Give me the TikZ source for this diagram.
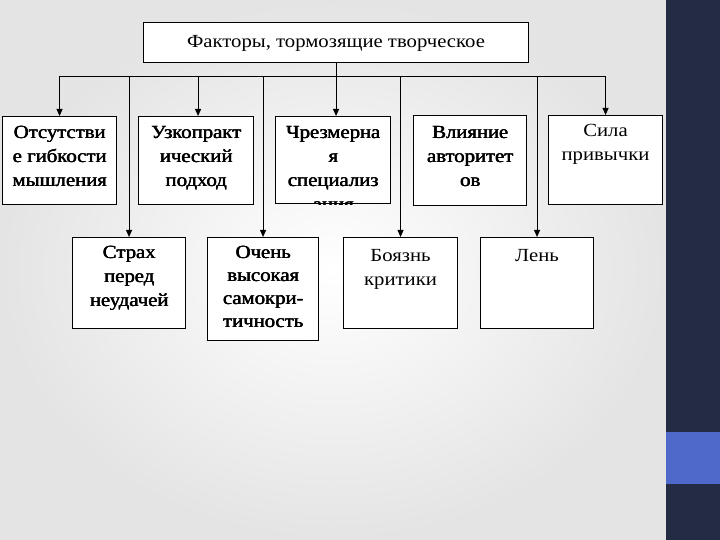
\documentclass[tikz,border=0pt]{standalone}
\usepackage{fontspec}
\setmainfont{Liberation Serif}[FakeStretch=1.12]
\newcommand\hv[1]{\leavevmode\rlap{\kern0.55pt#1}\rlap{\kern0.3pt\raisebox{0.35pt}{#1}}#1}
\usetikzlibrary{arrows.meta}
\definecolor{navy}{HTML}{232B45}
\definecolor{accent}{HTML}{4E69C9}
\definecolor{bgout}{HTML}{E4E4E4}
\tikzset{
  box/.style={draw, line width=1.1pt, inner sep=0pt, anchor=north west, fill=white},
  txt/.style={anchor=north, inner sep=0pt, align=center, font=\fontsize{18.5}{24}\selectfont},
  conn/.style={line width=0.9pt},
  arr/.style={line width=0.9pt, -{Triangle[length=7pt,width=6pt]}}
}
\begin{document}
\begin{tikzpicture}[x=1pt,y=-1pt]
\useasboundingbox (0,0) rectangle (720,540);
% background
\shade[inner color=white, outer color=bgout] (0,0) rectangle (666,540);
\fill[navy] (666,0) rectangle (720,540);
\fill[accent] (666,432) rectangle (720,484);

% title box
\node[box, minimum width=385pt, minimum height=40pt] (top) at (143,22) {};
\node[anchor=base, inner sep=0pt, font=\fontsize{18.5}{24}\selectfont] (topt) at (336,48) {Факторы, тормозящие творческое};

% row 1 boxes
\node[box, minimum width=114pt, minimum height=88pt] (b1) at (2,116) {};
\node[box, minimum width=115pt, minimum height=88pt] (b2) at (138,116) {};
\node[box, minimum width=115pt, minimum height=87pt] (b3) at (275,116) {};
\node[box, minimum width=113pt, minimum height=90pt] (b4) at (413,115) {};
\node[box, minimum width=114pt, minimum height=89pt] (b5) at (548,115) {};

\node[txt] (t1) at ([yshift=-10pt]b1.north) {\hv{Отсутстви}\\\hv{е гибкости}\\\hv{мышления}};
\node[txt] (t2) at ([yshift=-10pt]b2.north) {\hv{Узкопракт}\\\hv{ический}\\\hv{подход}};
\begin{scope}
\clip (b3.north west) rectangle (b3.south east);
\node[txt] (t3) at ([yshift=-10pt]b3.north) {\hv{Чрезмерна}\\\hv{я}\\\hv{специализ}\\\hv{ация}};
\end{scope}
\node[txt] (t4) at ([yshift=-11pt]b4.north) {\hv{Влияние}\\\hv{авторитет}\\\hv{ов}};
\node[txt] (t5) at ([yshift=-9pt]b5.north) {Сила\\привычки};

% row 2 boxes
\node[box, minimum width=113pt, minimum height=91pt] (r1) at (72,237) {};
\node[box, minimum width=111pt, minimum height=103pt] (r2) at (207,237) {};
\node[box, minimum width=114pt, minimum height=91pt] (r3) at (343,237) {};
\node[box, minimum width=113pt, minimum height=91pt] (r4) at (480,237) {};

\node[txt] (u1) at ([yshift=-9pt]r1.north) {\hv{Страх}\\\hv{перед}\\\hv{неудачей}};
\node[txt, font=\fontsize{18.5}{23}\selectfont] (u2) at ([yshift=-9pt]r2.north) {\hv{Очень}\\\hv{высокая}\\\hv{самокри-}\\\hv{тичность}};
\node[txt] (u3) at ([yshift=-12pt]r3.north) {Боязнь\\критики};
\node[txt] (u4) at ([yshift=-12pt]r4.north) {Лень};

% connectors
\coordinate (bus) at (0,76);
\draw[conn] (b1.north |- bus) -- (b5.north |- bus);
\draw[arr] (top.south) -- (top.south |- b3.north);
\draw[arr] (b1.north |- bus) -- (b1.north);
\draw[arr] ([xshift=2pt]b2.north |- bus) -- ([xshift=2pt]b2.north);
\draw[arr] (b5.north |- bus) -- (b5.north);
\draw[arr] (r1.north |- bus) -- (r1.north);
\draw[arr] (r2.north |- bus) -- (r2.north);
\draw[arr] (r3.north |- bus) -- (r3.north);
\draw[arr] (r4.north |- bus) -- (r4.north);
\end{tikzpicture}
\end{document}
